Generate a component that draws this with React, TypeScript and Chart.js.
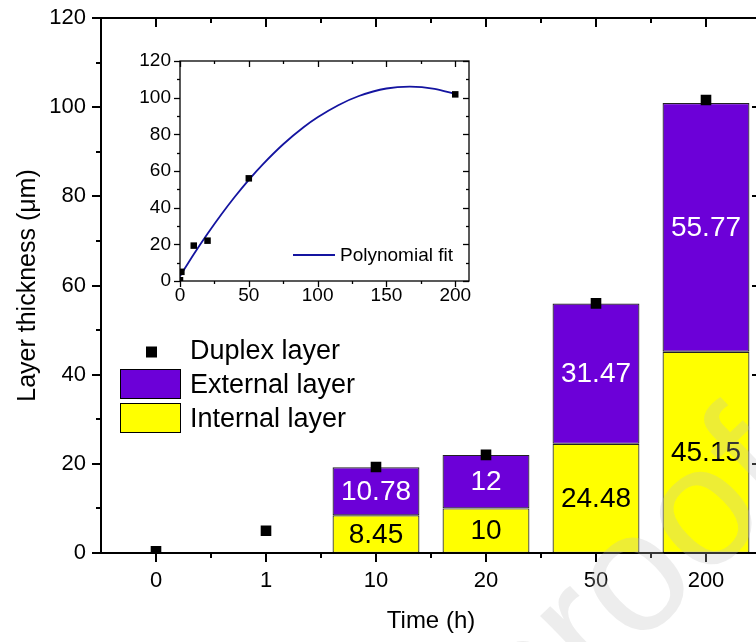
import React, { useEffect, useRef } from 'react';
import { Chart, registerables } from 'chart.js';

Chart.register(...registerables);

// ---------- data ----------
const timeLabels = ['0', '1', '10', '20', '50', '200'];
const internalLayer = [null, null, 8.45, 10, 24.48, 45.15];
const externalLayer = [null, null, 10.78, 12, 31.47, 55.77];
const duplexLayer = [0.4, 5, 19.3, 22, 56, 101.6];
const yTickValues = [0, 20, 40, 60, 80, 100, 120];

const insetTimes = [0, 1, 10, 20, 50, 200];
const insetDuplex = [0.4, 5, 19.3, 22, 56, 101.8];
const fitTimes = [0, 10, 20, 30, 40, 50, 60, 75, 90, 100, 115, 130, 150, 167, 185, 200];
const fitValues = [2.6, 14.6, 25.8, 36.3, 46.1, 55.2, 63.5, 74.6, 84.0, 89.3, 95.9, 100.9, 105.0, 106.0, 104.8, 102.0];
const insetXTicks = [0, 50, 100, 150, 200];
const insetYTicks = [0, 20, 40, 60, 80, 100, 120];

// ---------- styles ----------
const FONT = "'Liberation Sans', Arial, Helvetica, sans-serif";
const PURPLE = '#6C00D8';
const YELLOW = '#FFFF00';
const NAVY = '#1414A0';

function seg(ctx: CanvasRenderingContext2D, x1: number, y1: number, x2: number, y2: number) {
  ctx.beginPath();
  ctx.moveTo(x1, y1);
  ctx.lineTo(x2, y2);
  ctx.stroke();
}

function noScalePadding(s: any) {
  s.paddingTop = 0;
  s.paddingBottom = 0;
  s.paddingLeft = 0;
  s.paddingRight = 0;
}

const mainFrame = {
  id: 'mainFrame',
  afterDatasetsDraw(chart: any) {
    const { ctx, chartArea, scales } = chart;
    const { left, right, top, bottom } = chartArea;
    const x = scales.x;
    const y = scales.y;
    ctx.save();
    ctx.strokeStyle = '#000';
    ctx.lineWidth = 2;
    ctx.strokeRect(left, top, right - left, bottom - top);
    for (let v = 0; v <= 120; v += 10) {
      const py = Math.round(y.getPixelForValue(v));
      const len = v % 20 === 0 ? 9 : 5;
      seg(ctx, left - len, py, left, py);
      seg(ctx, right - len, py, right, py);
    }
    for (let i = 0; i < timeLabels.length; i++) {
      const px = Math.round(x.getPixelForValue(i));
      seg(ctx, px, bottom, px, bottom + 9);
      seg(ctx, px, top, px, top + 9);
      if (i < timeLabels.length - 1) {
        const pm = Math.round(x.getPixelForValue(i + 0.5));
        seg(ctx, pm, bottom, pm, bottom + 5);
        seg(ctx, pm, top, pm, top + 5);
      }
    }
    ctx.restore();
  },
};

const barLabels = {
  id: 'barLabels',
  afterDatasetsDraw(chart: any) {
    const { ctx } = chart;
    ctx.save();
    ctx.font = `28px ${FONT}`;
    ctx.textAlign = 'center';
    ctx.textBaseline = 'middle';
    chart.data.datasets.forEach((ds: any, di: number) => {
      if (ds.type !== 'bar') return;
      const meta = chart.getDatasetMeta(di);
      meta.data.forEach((bar: any, i: number) => {
        const v = ds.data[i];
        if (v == null) return;
        const p = bar.getProps(['x', 'y', 'base'], true);
        ctx.fillStyle = ds.labelColor;
        ctx.fillText(String(v), p.x, (p.y + p.base) / 2 + 1);
      });
    });
    ctx.restore();
  },
};

const mainLegend = {
  id: 'mainLegend',
  afterDraw(chart: any) {
    const { ctx, chartArea } = chart;
    const lx = chartArea.left + 19;
    const ty = 352;
    ctx.save();
    ctx.fillStyle = '#000';
    ctx.fillRect(lx + 26, ty - 5.5, 11, 11);
    ctx.lineWidth = 1;
    ctx.strokeStyle = '#000';
    ctx.fillStyle = PURPLE;
    ctx.fillRect(lx, ty + 17, 61, 30);
    ctx.strokeRect(lx + 0.5, ty + 17.5, 60, 29);
    ctx.fillStyle = YELLOW;
    ctx.fillRect(lx, ty + 51, 61, 30);
    ctx.strokeRect(lx + 0.5, ty + 51.5, 60, 29);
    ctx.fillStyle = '#000';
    ctx.font = `27px ${FONT}`;
    ctx.textAlign = 'left';
    ctx.textBaseline = 'middle';
    ctx.fillText('Duplex layer', lx + 70, ty);
    ctx.fillText('External layer', lx + 70, ty + 34);
    ctx.fillText('Internal layer', lx + 70, ty + 68);
    ctx.restore();
  },
};

const watermark = {
  id: 'watermark',
  afterDraw(chart: any) {
    const { ctx } = chart;
    ctx.save();
    ctx.translate(805, 485);
    ctx.rotate(-44 * Math.PI / 180);
    ctx.fillStyle = 'rgba(190,190,190,0.28)';
    ctx.font = `170px ${FONT}`;
    ctx.textAlign = 'right';
    ctx.textBaseline = 'alphabetic';
    ctx.fillText('Journal Pre-proof', 0, 0);
    ctx.restore();
  },
};

const insetFrame = {
  id: 'insetFrame',
  afterDatasetsDraw(chart: any) {
    const { ctx, chartArea, scales } = chart;
    const { left, right, top, bottom } = chartArea;
    const x = scales.x;
    const y = scales.y;
    ctx.save();
    ctx.strokeStyle = '#000';
    ctx.lineWidth = 1.3;
    ctx.strokeRect(left, top, right - left, bottom - top);
    for (let v = 0; v <= 120; v += 10) {
      const py = Math.round(y.getPixelForValue(v)) + 0.5;
      const len = v % 20 === 0 ? 6 : 3;
      seg(ctx, left - len, py, left, py);
      seg(ctx, right - len, py, right, py);
    }
    for (let v = 0; v <= 200; v += 25) {
      const px = Math.round(x.getPixelForValue(v)) + 0.5;
      const len = v % 50 === 0 ? 6 : 3;
      seg(ctx, px, bottom, px, bottom + len);
      seg(ctx, px, top, px, top + len);
    }
    // legend
    ctx.strokeStyle = NAVY;
    ctx.lineWidth = 1.8;
    seg(ctx, left + 113, bottom - 26, left + 155, bottom - 26);
    ctx.fillStyle = '#000';
    ctx.font = `19px ${FONT}`;
    ctx.textAlign = 'left';
    ctx.textBaseline = 'middle';
    ctx.fillText('Polynomial fit', left + 160, bottom - 25);
    ctx.restore();
  },
};

export default function App() {
  const mainRef = useRef<HTMLCanvasElement>(null);
  const insetRef = useRef<HTMLCanvasElement>(null);

  useEffect(() => {
    const main = new Chart(mainRef.current as HTMLCanvasElement, {
      type: 'bar',
      data: {
        labels: timeLabels,
        datasets: [
          {
            type: 'line',
            label: 'Duplex layer',
            data: duplexLayer,
            showLine: false,
            pointStyle: 'rect',
            pointRadius: 7.5,
            pointBorderWidth: 0,
            backgroundColor: '#000',
            borderColor: '#000',
            stack: 'duplex',
            order: 0,
          } as any,
          {
            type: 'bar',
            label: 'Internal layer',
            data: internalLayer,
            backgroundColor: YELLOW,
            borderColor: '#222',
            borderWidth: 1.2,
            borderSkipped: false,
            stack: 'layers',
            order: 1,
            labelColor: '#000',
          } as any,
          {
            type: 'bar',
            label: 'External layer',
            data: externalLayer,
            backgroundColor: PURPLE,
            borderColor: '#222',
            borderWidth: 1.2,
            borderSkipped: false,
            stack: 'layers',
            order: 1,
            labelColor: '#fff',
          } as any,
        ],
      },
      options: {
        animation: false,
        responsive: false,
        events: [],
        datasets: { bar: { categoryPercentage: 0.79, barPercentage: 1 } },
        layout: { padding: { left: 0, right: 29, top: 18, bottom: 0 } },
        plugins: { legend: { display: false }, tooltip: { enabled: false } },
        scales: {
          x: {
            type: 'category',
            offset: true,
            stacked: true,
            grid: { display: false, drawTicks: false },
            border: { display: false },
            ticks: { color: '#000', font: { family: FONT, size: 22 }, padding: 15, maxRotation: 0, autoSkip: false },
            title: { display: true, text: 'Time (h)', color: '#000', font: { family: FONT, size: 24 }, padding: { top: 0, bottom: 6 } },
            afterFit: (s: any) => { s.height = 89; noScalePadding(s); },
          },
          y: {
            type: 'linear',
            min: 0,
            max: 120,
            stacked: true,
            grid: { display: false, drawTicks: false },
            border: { display: false },
            ticks: { color: '#000', font: { family: FONT, size: 22 }, padding: 15 },
            afterBuildTicks: (s: any) => { s.ticks = yTickValues.map((v) => ({ value: v })); },
            title: { display: true, text: 'Layer thickness (μm)', color: '#000', font: { family: FONT, size: 25 }, padding: { top: 13, bottom: 0 } },
            afterFit: (s: any) => { s.width = 101; noScalePadding(s); },
          },
        },
      } as any,
      plugins: [mainFrame, barLabels, mainLegend, watermark],
    });

    const inset = new Chart(insetRef.current as HTMLCanvasElement, {
      type: 'scatter',
      data: {
        datasets: [
          {
            label: 'Duplex layer',
            data: insetTimes.map((t, i) => ({ x: t, y: insetDuplex[i] })),
            pointStyle: 'rect',
            pointRadius: 4.6,
            pointBorderWidth: 0,
            backgroundColor: '#000',
            borderColor: '#000',
            order: 0,
          } as any,
          {
            label: 'Polynomial fit',
            data: fitTimes.map((t, i) => ({ x: t, y: fitValues[i] })),
            showLine: true,
            cubicInterpolationMode: 'monotone',
            pointRadius: 0,
            borderColor: NAVY,
            borderWidth: 1.8,
            fill: false,
            order: 1,
          } as any,
        ],
      },
      options: {
        animation: false,
        responsive: false,
        events: [],
        layout: { padding: { left: 0, right: 6, top: 16, bottom: 0 } },
        plugins: { legend: { display: false }, tooltip: { enabled: false } },
        scales: {
          x: {
            type: 'linear',
            min: 0,
            max: 210,
            grid: { display: false, drawTicks: false },
            border: { display: false },
            ticks: { color: '#000', font: { family: FONT, size: 19 }, padding: 3, maxRotation: 0 },
            afterBuildTicks: (s: any) => { s.ticks = insetXTicks.map((v) => ({ value: v })); },
            afterFit: (s: any) => { s.height = 29; noScalePadding(s); },
          },
          y: {
            type: 'linear',
            min: 0,
            max: 120,
            grid: { display: false, drawTicks: false },
            border: { display: false },
            ticks: { color: '#000', font: { family: FONT, size: 19 }, padding: 9 },
            afterBuildTicks: (s: any) => { s.ticks = insetYTicks.map((v) => ({ value: v })); },
            afterFit: (s: any) => { s.width = 50; noScalePadding(s); },
          },
        },
      } as any,
      plugins: [insetFrame],
    });

    return () => {
      main.destroy();
      inset.destroy();
    };
  }, []);

  return (
    <div style={{ position: 'absolute', left: 0, top: 0, width: 756, height: 642, overflow: 'hidden', background: '#fff' }}>
      <canvas ref={mainRef} width={790} height={642} style={{ position: 'absolute', left: 0, top: 0, width: 790, height: 642 }} />
      <canvas ref={insetRef} width={345} height={265} style={{ position: 'absolute', left: 130, top: 45, width: 345, height: 265 }} />
    </div>
  );
}
